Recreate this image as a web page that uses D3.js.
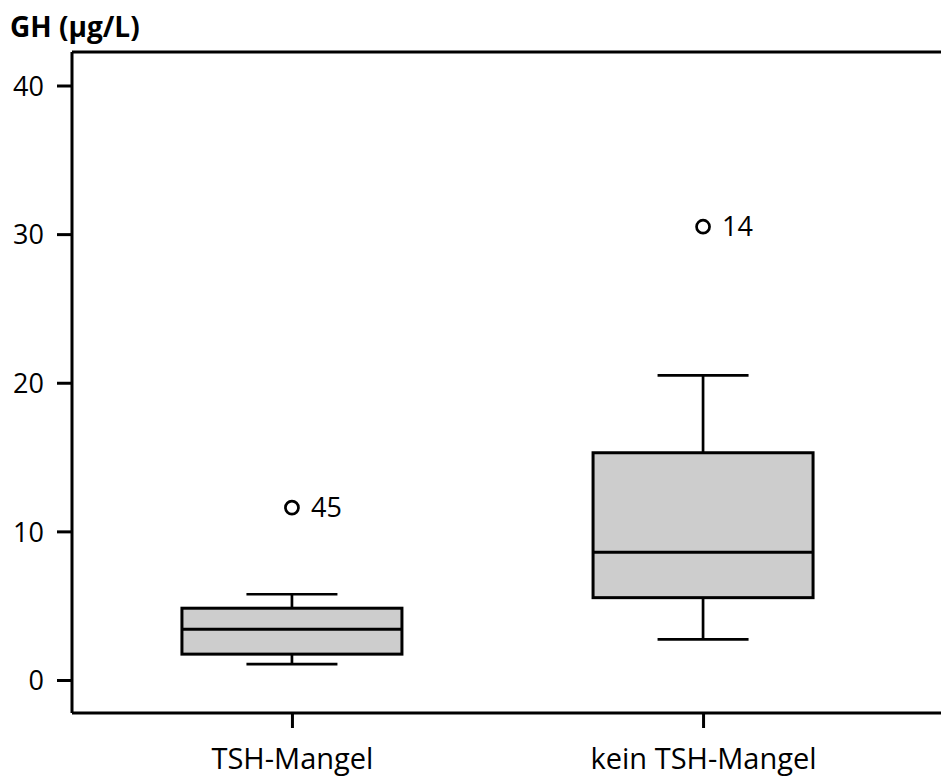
<!DOCTYPE html>
<html>
<head>
<meta charset="utf-8">
<script src="https://cdn.jsdelivr.net/npm/d3@7"></script>
<style>
  body { margin: 0; background: #fff; }
  svg { display: block; }
  svg text { font-family: "Open Sans", sans-serif; fill: #000; }
  .axis path, .axis line { stroke: #000; stroke-width: 3; }
</style>
</head>
<body>
<svg id="chart"></svg>
<script>
var categories = ["TSH-Mangel", "kein TSH-Mangel"];
var whiskerLow = [1.07, 2.74];
var q1 = [1.74, 5.54];
var median = [3.42, 8.59];
var q3 = [4.83, 15.29];
var whiskerHigh = [5.77, 20.5];
var outliers = [11.6, 30.5];
var outlierLabels = ["45", "14"];
var yTicks = [0, 10, 20, 30, 40];

var width = 941, height = 778;
var margin = {top: 52, right: 0, bottom: 65, left: 72};

var svg = d3.select("#chart")
    .attr("width", width)
    .attr("height", height);

var y = d3.scaleLinear()
    .domain([0, 40])
    .range([680, 85.5]);

var x = d3.scalePoint()
    .domain(categories)
    .range([margin.left, 923])
    .padding(0.535);

var bottomY = height - margin.bottom;

var boxes = categories.map(function(c, i) {
    return {cat: c, lo: whiskerLow[i], q1: q1[i], med: median[i], q3: q3[i],
            hi: whiskerHigh[i], out: outliers[i], label: outlierLabels[i]};
});

var boxW = 220, capW = 91;

// frame top line (right side is cut off in the original)
svg.append("line")
    .attr("x1", margin.left).attr("x2", width + 10)
    .attr("y1", margin.top).attr("y2", margin.top)
    .attr("stroke", "#000").attr("stroke-width", 3);

var yAxis = svg.append("g")
    .attr("class", "axis")
    .attr("transform", "translate(" + margin.left + ",0)")
    .call(d3.axisLeft(y).tickValues(yTicks).tickSize(15).tickPadding(13).tickSizeOuter(0));
yAxis.attr("font-family", null).attr("font-size", null);
yAxis.select(".domain").attr("d", "M0," + margin.top + "V" + bottomY);
yAxis.selectAll("text").style("font-size", "27px").attr("dy", "0.36em");

var xAxis = svg.append("g")
    .attr("class", "axis")
    .attr("transform", "translate(0," + bottomY + ")")
    .call(d3.axisBottom(x).tickSize(15).tickPadding(20).tickSizeOuter(0));
xAxis.attr("font-family", null).attr("font-size", null);
xAxis.select(".domain").attr("d", "M" + margin.left + ",0H" + (width + 10));
xAxis.selectAll("text").style("font-size", "29px").attr("y", 0).attr("dy", 56);

var g = svg.append("g");

// whiskers
g.selectAll(".whisker")
    .data(boxes).enter().append("line")
    .attr("x1", function(d) { return x(d.cat); })
    .attr("x2", function(d) { return x(d.cat); })
    .attr("y1", function(d) { return y(d.lo); })
    .attr("y2", function(d) { return y(d.hi); })
    .attr("stroke", "#000").attr("stroke-width", 2.7);

g.selectAll(".capLo")
    .data(boxes).enter().append("line")
    .attr("x1", function(d) { return x(d.cat) - capW / 2; })
    .attr("x2", function(d) { return x(d.cat) + capW / 2; })
    .attr("y1", function(d) { return y(d.lo); })
    .attr("y2", function(d) { return y(d.lo); })
    .attr("stroke", "#000").attr("stroke-width", 2.7);

g.selectAll(".capHi")
    .data(boxes).enter().append("line")
    .attr("x1", function(d) { return x(d.cat) - capW / 2; })
    .attr("x2", function(d) { return x(d.cat) + capW / 2; })
    .attr("y1", function(d) { return y(d.hi); })
    .attr("y2", function(d) { return y(d.hi); })
    .attr("stroke", "#000").attr("stroke-width", 2.7);

// boxes
g.selectAll(".box")
    .data(boxes).enter().append("rect")
    .attr("x", function(d) { return x(d.cat) - boxW / 2; })
    .attr("width", boxW)
    .attr("y", function(d) { return y(d.q3); })
    .attr("height", function(d) { return y(d.q1) - y(d.q3); })
    .attr("fill", "#cdcdcd")
    .attr("stroke", "#000").attr("stroke-width", 3);

g.selectAll(".median")
    .data(boxes).enter().append("line")
    .attr("x1", function(d) { return x(d.cat) - boxW / 2; })
    .attr("x2", function(d) { return x(d.cat) + boxW / 2; })
    .attr("y1", function(d) { return y(d.med); })
    .attr("y2", function(d) { return y(d.med); })
    .attr("stroke", "#000").attr("stroke-width", 3);

// outliers
g.selectAll(".out")
    .data(boxes).enter().append("circle")
    .attr("cx", function(d) { return x(d.cat); })
    .attr("cy", function(d) { return y(d.out); })
    .attr("r", 6.5)
    .attr("fill", "none")
    .attr("stroke", "#000").attr("stroke-width", 2.7);

g.selectAll(".outLabel")
    .data(boxes).enter().append("text")
    .attr("x", function(d) { return x(d.cat) + 19; })
    .attr("y", function(d) { return y(d.out); })
    .attr("dy", "0.36em")
    .style("font-size", "27px")
    .text(function(d) { return d.label; });

// y title
svg.append("text")
    .attr("x", 10)
    .attr("y", 37)
    .style("font-size", "28px")
    .style("font-weight", "bold")
    .text("GH (µg/L)");
</script>
</body>
</html>
